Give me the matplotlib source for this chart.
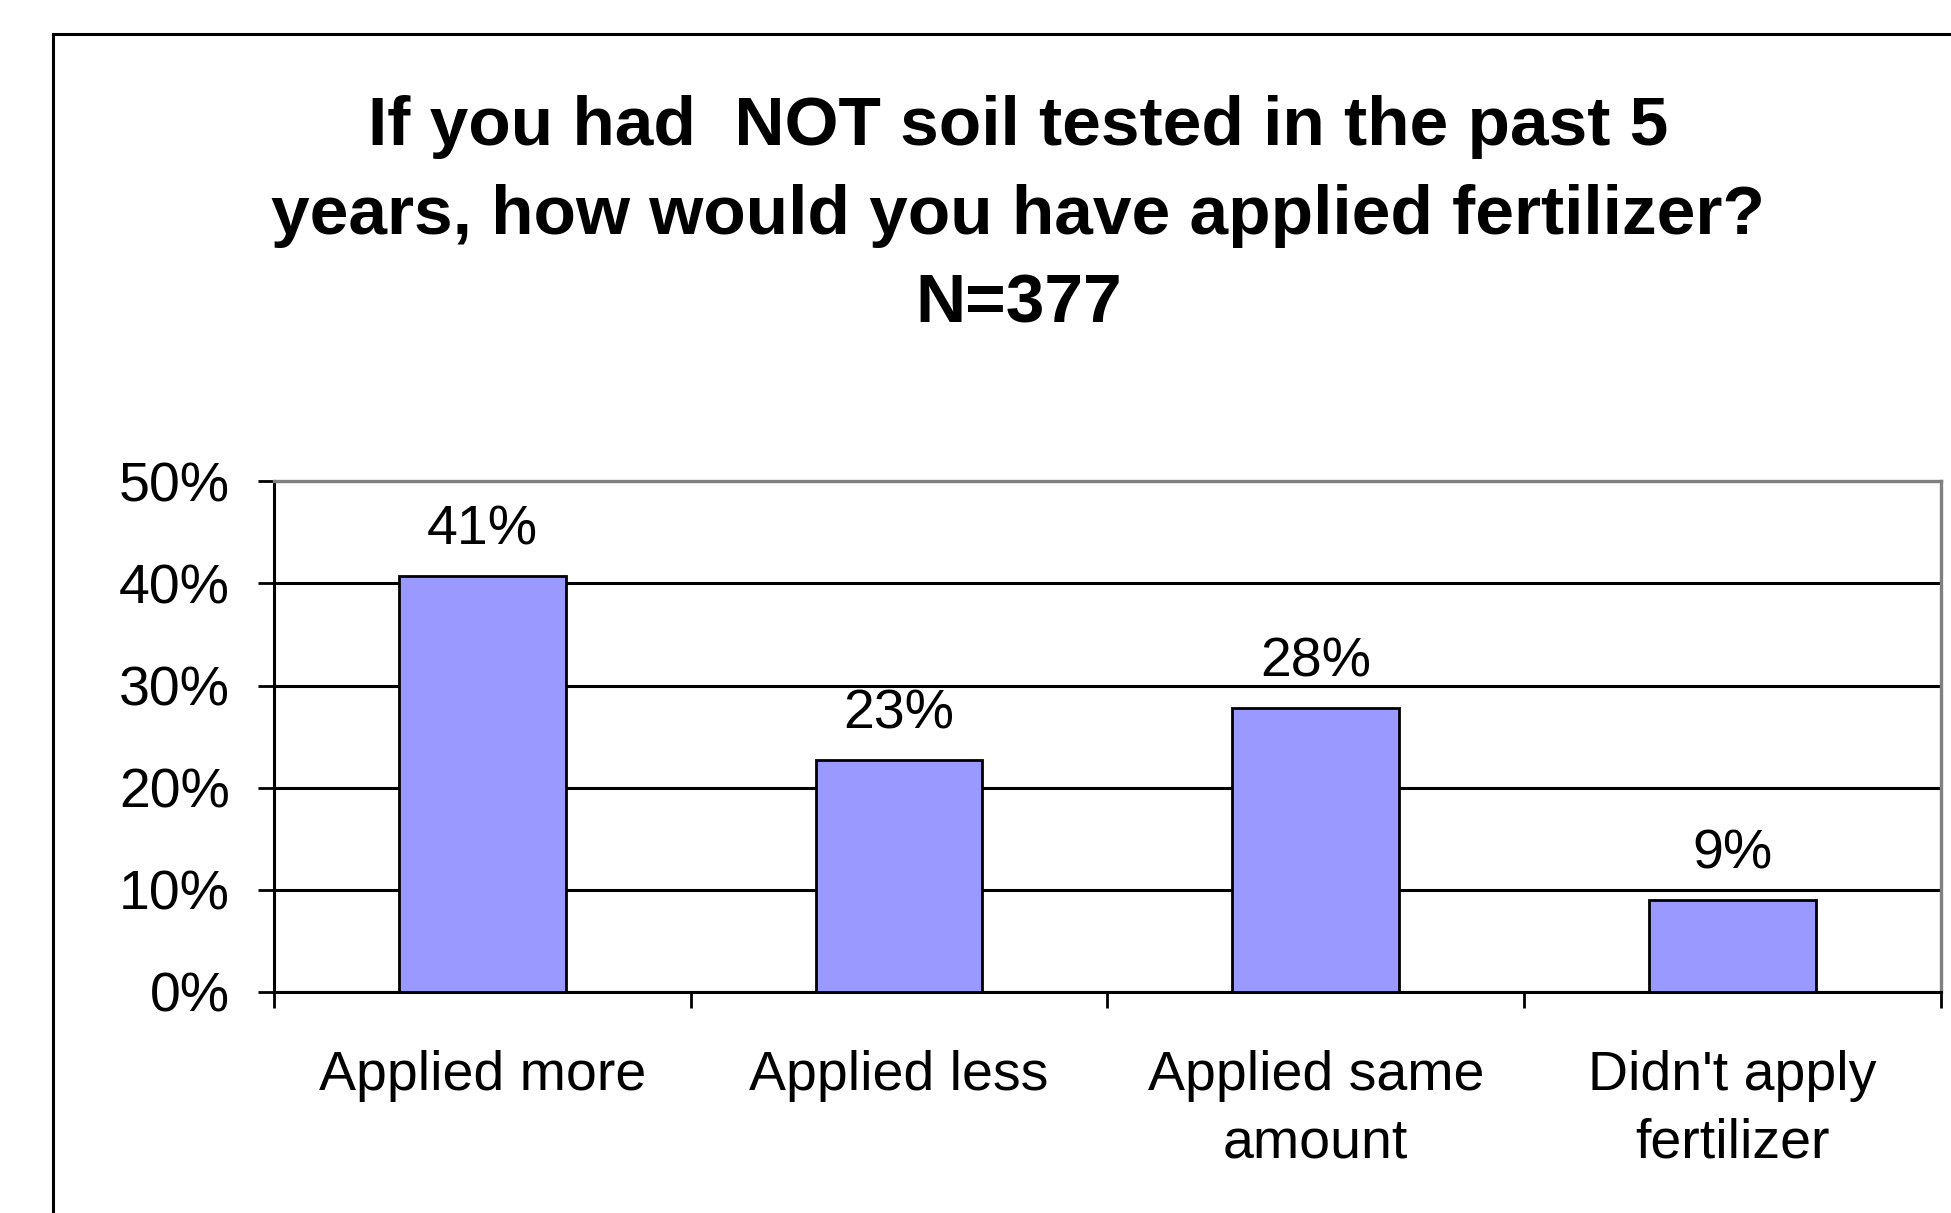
import matplotlib.pyplot as plt
from matplotlib.patches import Rectangle
from matplotlib.ticker import PercentFormatter, FixedLocator

plt.rcParams['font.family'] = ['Liberation Sans', 'DejaVu Sans']

# survey answers (share of respondents)
categories = ['Applied more', 'Applied less', 'Applied same\namount', "Didn't apply\nfertilizer"]
shares = [0.407, 0.227, 0.278, 0.090]
title = 'If you had  NOT soil tested in the past 5\nyears, how would you have applied fertilizer?\nN=377'

fig = plt.figure(figsize=(19.51, 12.13), dpi=100)
ax = fig.add_axes([0.1403, 0.1825, 0.8546, 0.4206])

# outer chart border, runs off the right and bottom edges
fig.patches.append(Rectangle((0.0274, -0.05), 1.1, 0.9723 + 0.05, transform=fig.transFigure,
                             fill=False, edgecolor='black', linewidth=2.2))

x = range(len(categories))
bars = ax.bar(x, shares, width=0.4, color='#9999FF', edgecolor='black', linewidth=2.0, zorder=3)

for b, v in zip(bars, shares):
    ax.annotate(f'{v:.0%}', (b.get_x() + b.get_width() / 2, v), xytext=(0, 14),
                textcoords='offset points', ha='center', va='bottom', fontsize=40)

ax.set_xlim(-0.5, len(categories) - 0.5)
ax.set_ylim(0, 0.5)
ax.yaxis.set_major_locator(FixedLocator([0, 0.1, 0.2, 0.3, 0.4, 0.5]))
ax.yaxis.set_major_formatter(PercentFormatter(1.0, decimals=0))
ax.set_xticks(list(x))
ax.set_xticklabels(categories, fontsize=40, linespacing=1.38)
ax.set_xticks([i - 0.5 for i in range(len(categories) + 1)], minor=True)
ax.tick_params(axis='x', which='major', length=0, pad=42)
ax.tick_params(axis='x', which='minor', length=11.5, width=2.0, direction='out')
ax.tick_params(axis='y', length=11.5, width=2.0, pad=20, labelsize=40)

ax.grid(axis='y', color='black', linewidth=2.2, zorder=1)
ax.set_axisbelow(True)
for side in ['left', 'bottom']:
    ax.spines[side].set_color('black')
    ax.spines[side].set_linewidth(2.2)
for side in ['top', 'right']:
    ax.spines[side].set_color('#808080')
    ax.spines[side].set_linewidth(2.4)

fig.text(0.522, 0.922, title, ha='center', va='top', fontsize=50, fontweight='bold', linespacing=1.5)

fig.savefig('out.png', dpi=100)
